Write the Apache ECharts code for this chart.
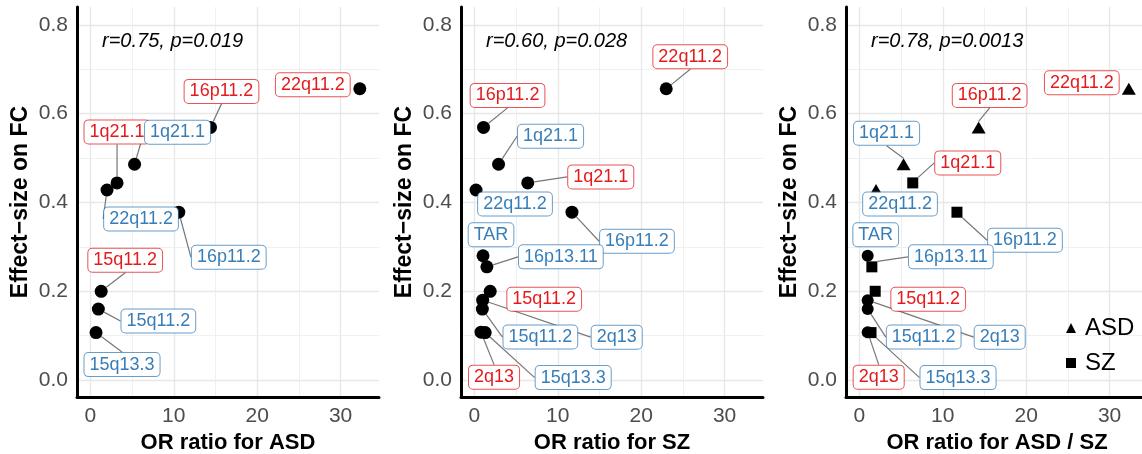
<!DOCTYPE html>
<html>
<head>
<meta charset="utf-8">
<script src="https://cdn.jsdelivr.net/npm/echarts@6/dist/echarts.min.js"></script>
<style>
  html, body { margin: 0; padding: 0; background: #fff; }
  #chart { width: 1142px; height: 454px; }
</style>
</head>
<body>
<div id="chart"></div>
<script>
// CNVs (del = red, dup = blue), effect size on FC is shared by all panels
const cnvNames = ['22q11.2', '16p11.2', '1q21.1', '1q21.1', '22q11.2', '16p11.2', 'TAR', '16p13.11', '15q11.2', '2q13', '15q11.2', '15q13.3', '2q13'];
const cnvTypes = ['del', 'del', 'del', 'dup', 'dup', 'dup', 'dup', 'dup', 'del', 'dup', 'dup', 'dup', 'del'];
const effectFC = [0.656, 0.569, 0.444, 0.486, 0.428, 0.378, 0.280, 0.255, 0.200, 0.180, 0.160, 0.107, 0.108];
const orASD = [32.3, 14.4, 3.2, 5.3, 2.0, 10.6, null, null, 1.3, null, 0.96, 0.68, null];
const orSZ = [23.0, 1.1, 6.4, 2.9, 0.2, 11.7, 1.04, 1.5, 1.9, 1.0, 0.96, 1.3, 0.8];
const orBoth = [32.3, 14.3, 6.4, 5.3, 2.0, 11.7, 1.0, 1.5, 1.9, 1.0, 1.0, 1.4, 1.0];
const bothSource = ['ASD', 'ASD', 'SZ', 'ASD', 'ASD', 'SZ', 'none', 'SZ', 'SZ', 'none', 'none', 'SZ', 'none'];

const corrText = ['r=0.75, p=0.019', 'r=0.60, p=0.028', 'r=0.78, p=0.0013'];
const xTitles = ['OR ratio for ASD', 'OR ratio for SZ', 'OR ratio for ASD / SZ'];
const yTitle = 'Effect−size on FC';
const xTicks = [0, 10, 20, 30];
const xMinor = [5, 15, 25];
const yTicks = [0, 0.2, 0.4, 0.6, 0.8];
const yMinor = [0.1, 0.3, 0.5, 0.7];
const legendNames = ['ASD', 'SZ'];

// label placement (px offset from the point, and whether a connector is drawn)
const labelPos1 = [[-47, -4, 0], [11, -36, 1], [0, -51, 1], [43, -32, 1], [34, 29, 1], [50, 45, 1], null, null, [24, -31, 1], null, [60, 12, 1], [26, 32, 1], null];
const labelPos2 = [[24, -32, 1], [24, -32, 1], [73, -6, 1], [52, -28, 1], [39, 14, 0], [65, 29, 1], [8, -21, 0], [74, -10, 1], [54, 8, 0], [134, 37, 1], [58, 28, 1], [88, 45, 1], [13, 45, 1]];
const labelPos3 = [[-47, -6, 0], [11, -32, 1], [55, -20, 1], [-17, -31, 1], [24, 14, 0], [68, 28, 1], [8, -21, 0], [79, -10, 1], [53, 8, 0], [132, 37, 1], [56, 28, 1], [87, 45, 1], [11, 45, 1]];

const colors = { del: '#E41A1C', dup: '#377EB8' };
const borders = { del: 'rgba(228,26,28,0.75)', dup: 'rgba(55,126,184,0.75)' };
const FONT = 'Liberation Sans, Arial, sans-serif';

const panels = [
  { left: 77, xs: orASD, pos: labelPos1 },
  { left: 461, xs: orSZ, pos: labelPos2 },
  { left: 846, xs: orBoth, pos: labelPos3 }
];

const chart = echarts.init(document.getElementById('chart'));

const grids = [], xAxes = [], yAxes = [], titles = [], series = [];
const layoutBySeries = {};

function gridLines(gi) {
  const major = { color: '#e8e8e8', width: 1.4, type: 'solid' };
  const minor = { color: '#f0f0f0', width: 1, type: 'solid' };
  const data = [];
  yMinor.forEach(v => data.push({ yAxis: v, lineStyle: minor }));
  xMinor.forEach(v => data.push({ xAxis: v, lineStyle: minor }));
  yTicks.forEach(v => data.push({ yAxis: v, lineStyle: major }));
  xTicks.forEach(v => data.push({ xAxis: v, lineStyle: major }));
  return {
    type: 'scatter', xAxisIndex: gi, yAxisIndex: gi, data: [], z: 0, silent: true,
    markLine: { z: 0, symbol: ['none', 'none'], silent: true, label: { show: false }, animation: false, data: data }
  };
}

function pointSeries(gi, name, symbol, size, idxList, xs, pos) {
  const data = idxList.map(i => ({
    name: cnvNames[i],
    value: [xs[i], effectFC[i]],
    label: { color: colors[cnvTypes[i]], borderColor: borders[cnvTypes[i]] },
    labelLine: { show: pos[i][2] === 1 }
  }));
  layoutBySeries[series.length] = idxList.map(i => pos[i]);
  return {
    type: 'scatter', name: name, xAxisIndex: gi, yAxisIndex: gi, z: 3,
    symbol: symbol, symbolSize: size,
    itemStyle: { color: '#000', opacity: 1 },
    data: data,
    label: {
      show: true, position: 'inside', formatter: '{b}',
      fontSize: 18, fontFamily: FONT,
      backgroundColor: '#fff', borderWidth: 1, borderRadius: 4,
      padding: [3, 5, 2, 5]
    },
    labelLine: { show: true, lineStyle: { color: '#777', width: 1.2 } },
    labelLayout: function (p) {
      const o = layoutBySeries[p.seriesIndex][p.dataIndex];
      return { dx: o[0], dy: o[1] };
    },
    emphasis: { disabled: true }
  };
}

panels.forEach((pn, gi) => {
  grids.push({ left: pn.left, top: 7, width: 302, height: 390, containLabel: false, outerBoundsMode: 'none' });
  xAxes.push({
    gridIndex: gi, type: 'value', min: -1.6, max: 34.6,
    splitLine: { show: false },
    axisLine: { onZero: false, lineStyle: { color: '#000', width: 3 } },
    axisTick: { show: false },
    axisLabel: { customValues: xTicks, color: '#4d4d4d', fontSize: 21, margin: 9, fontFamily: FONT },
    name: xTitles[gi], nameLocation: 'middle', nameGap: 31,
    nameTextStyle: { fontSize: 22, fontWeight: 'bold', color: '#000', fontFamily: FONT }
  });
  yAxes.push({
    gridIndex: gi, type: 'value', min: -0.038, max: 0.84,
    splitLine: { show: false },
    axisLine: { onZero: false, lineStyle: { color: '#000', width: 3 } },
    axisTick: { show: false },
    axisLabel: {
      customValues: yTicks, color: '#4d4d4d', fontSize: 21, margin: 9, fontFamily: FONT,
      formatter: v => v.toFixed(1)
    },
    name: yTitle, nameLocation: 'middle', nameGap: 45,
    nameTextStyle: { fontSize: 23, fontWeight: 'bold', color: '#000', fontFamily: FONT }
  });
  titles.push({
    text: corrText[gi], left: pn.left + 25, top: 31, padding: 0,
    textStyle: { fontSize: 20, fontStyle: 'italic', fontWeight: 'normal', color: '#000', fontFamily: FONT }
  });
  series.push(gridLines(gi));
});

// panel 1: ASD, panel 2: SZ (circles)
const all = cnvNames.map((_, i) => i);
series.push(pointSeries(0, 'asdPts', 'circle', 13, all.filter(i => orASD[i] !== null), orASD, labelPos1));
series.push(pointSeries(1, 'szPts', 'circle', 13, all.filter(i => orSZ[i] !== null), orSZ, labelPos2));
// panel 3: shape by which disorder gives the OR
series.push(pointSeries(2, 'ASD', 'triangle', [14, 12], all.filter(i => bothSource[i] === 'ASD'), orBoth, labelPos3));
series.push(pointSeries(2, 'SZ', 'rect', 11, all.filter(i => bothSource[i] === 'SZ'), orBoth, labelPos3));
series.push(pointSeries(2, 'other', 'circle', 12, all.filter(i => bothSource[i] === 'none'), orBoth, labelPos3));

chart.setOption({
  animation: false,
  backgroundColor: '#fff',
  title: titles,
  grid: grids,
  xAxis: xAxes,
  yAxis: yAxes,
  legend: {
    data: [{ name: legendNames[0], icon: 'triangle' }, { name: legendNames[1], icon: 'rect' }],
    orient: 'vertical', left: 1066, top: 315, padding: 0,
    itemWidth: 10, itemHeight: 10, itemGap: 9,
    selectedMode: false,
    textStyle: { fontSize: 24, color: '#000', fontFamily: FONT, lineHeight: 26, padding: [0, 0, 0, 4] }
  },
  series: series
});
</script>
</body>
</html>
